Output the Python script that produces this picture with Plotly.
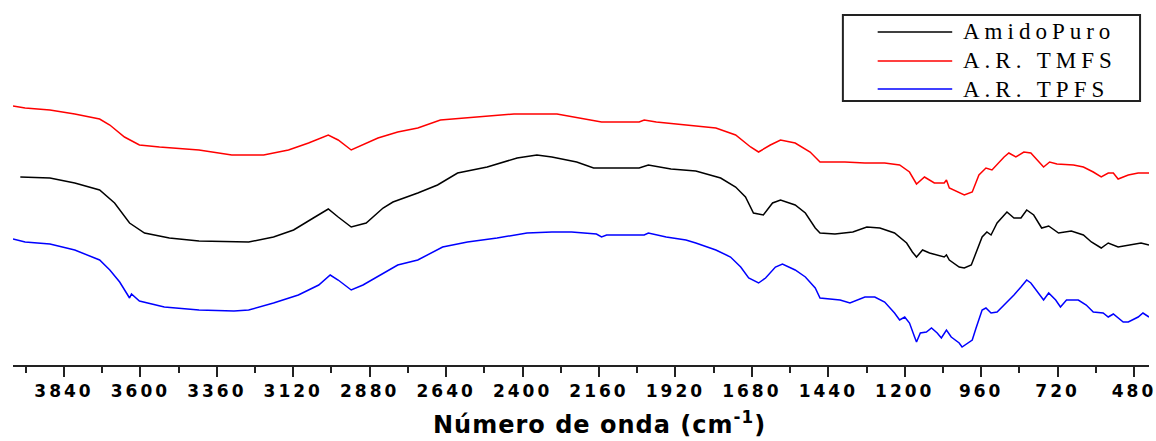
import plotly.graph_objects as go

# Wavenumber (cm^-1) and transmittance (arbitrary units, curves offset for display)
amido_x = [3977, 3884, 3806, 3728, 3681, 3634, 3587, 3509, 3416, 3260, 3182, 3119, 3057, 3010, 2979,
           2938, 2891, 2838, 2807, 2729, 2667, 2604, 2511, 2417, 2355, 2308, 2230, 2177, 2034, 2005,
           1934, 1856, 1778, 1731, 1700, 1675, 1644, 1615, 1590, 1544, 1512, 1481, 1466, 1419, 1363,
           1319, 1278, 1232, 1194, 1176, 1163, 1144, 1122, 1091, 1076, 1069, 1060, 1029, 1013, 991,
           976, 957, 942, 929, 910, 888, 879, 857, 835, 817, 795, 770, 748, 717, 677, 639, 614, 583,
           561, 530, 483, 458, 433]
amido_y = [188, 187, 182, 175, 162, 142, 132, 127, 124, 123, 128, 135, 147, 156, 148,
           138, 142, 157, 163, 172, 180, 192, 198, 207, 210, 208, 203, 197, 197, 200,
           196, 194, 187, 178, 168, 152, 150, 162, 165, 160, 152, 137, 132, 131, 133,
           138, 137, 132, 122, 113, 108, 115, 112, 109, 108, 110, 105, 98, 97, 100,
           112, 128, 133, 130, 142, 150, 153, 147, 147, 155, 150, 137, 139, 132, 134, 130, 123, 117,
           122, 118, 121, 122, 120]

tmfs_x = [4000, 3962, 3884, 3806, 3728, 3696, 3650, 3603, 3540, 3416, 3313, 3213, 3135, 3072, 3010,
          2979, 2938, 2901, 2854, 2792, 2729, 2658, 2542, 2427, 2292, 2199, 2152, 2034, 2018, 1980,
          1887, 1793, 1731, 1684, 1659, 1622, 1590, 1544, 1497, 1466, 1388, 1325, 1263, 1216, 1185,
          1163, 1138, 1107, 1076, 1069, 1060, 1029, 1013, 988, 967, 945, 926, 888, 873, 851, 826,
          804, 779, 764, 745, 722, 670, 639, 608, 583, 561, 545, 530, 498, 467, 433]
tmfs_y = [259, 257, 255, 251, 246, 240, 228, 220, 218, 215, 210, 210, 215, 222, 230,
          225, 215, 220, 227, 233, 237, 245, 248, 251, 251, 246, 243, 243, 245, 243,
          240, 237, 230, 218, 213, 220, 225, 222, 213, 203, 203, 202, 202, 200, 193,
          181, 188, 182, 182, 185, 177, 172, 170, 173, 190, 197, 195, 208, 212, 208, 213,
          212, 203, 198, 203, 201, 200, 198, 193, 188, 192, 192, 186, 190, 192, 192]

tpfs_x = [4000, 3962, 3884, 3806, 3728, 3696, 3665, 3650, 3634, 3628, 3603, 3525, 3416, 3306, 3260,
          3182, 3104, 3040, 3004, 2979, 2938, 2901, 2838, 2792, 2729, 2651, 2573, 2480, 2386, 2308,
          2246, 2168, 2152, 2136, 2018, 2005, 1949, 1887, 1856, 1793, 1747, 1715, 1690, 1659, 1637,
          1606, 1584, 1544, 1512, 1481, 1466, 1403, 1372, 1325, 1294, 1263, 1232, 1216, 1200, 1185,
          1169, 1163, 1151, 1132, 1116, 1098, 1085, 1069, 1054, 1029, 1020, 998, 988, 976, 957, 945,
          929, 910, 888, 873, 857, 835, 817, 804, 779, 764, 748, 726, 711, 692, 655, 630, 608, 577,
          561, 545, 514, 498, 467, 452, 433]
tpfs_y = [126, 123, 121, 115, 105, 95, 83, 75, 67, 71, 64, 58, 55, 54, 55,
          62, 70, 80, 90, 85, 75, 80, 92, 100, 105, 118, 123, 127, 132, 133,
          133, 131, 128, 130, 130, 132, 128, 125, 122, 115, 108, 98, 87, 82, 87,
          98, 101, 95, 88, 77, 67, 65, 62, 68, 68, 63, 52, 45, 48, 42,
          28, 23, 32, 33, 37, 32, 27, 35, 28, 22, 18, 23, 25, 37, 55, 57,
          52, 53, 60, 65, 70, 78, 85, 82, 72, 65, 72, 65, 58, 65, 65, 60, 53, 52,
          48, 51, 43, 43, 48, 52, 48]

series_names = ["AmidoPuro", "A.R. TMFS", "A.R. TPFS"]
series_colors = ["#000000", "#ff0000", "#0000ff"]

tick_vals = [3840, 3600, 3360, 3120, 2880, 2640, 2400, 2160, 1920, 1680, 1440, 1200, 960, 720, 480]
tick_labels = [str(v) for v in tick_vals]

W, H = 1156, 441
ML, MR, MT, MB = 13, 0, 0, 76
PW, PH = W - ML - MR, H - MT - MB


def px_x(p):  # pixel -> paper x
    return (p - ML) / PW


def px_y(p):  # pixel -> paper y
    return (H - MB - p) / PH


def spaced(s, px):
    return f'<span style="letter-spacing:{px}px">{s}</span>'


fig = go.Figure()
for name, xs, ys, col in zip(series_names,
                             [amido_x, tmfs_x, tpfs_x],
                             [amido_y, tmfs_y, tpfs_y],
                             series_colors):
    fig.add_trace(go.Scatter(x=xs, y=ys, mode="lines", name=name, showlegend=False,
                             line=dict(color=col, width=1.5)))

# framed key
shapes = [dict(type="rect", xref="paper", yref="paper",
               x0=px_x(848), x1=px_x(1147), y0=px_y(101), y1=px_y(15),
               line=dict(color="#222222", width=2), fillcolor="white", layer="above")]
annotations = []
row_y = [32, 61, 89]
for name, col, ry in zip(series_names, series_colors, row_y):
    shapes.append(dict(type="line", xref="paper", yref="paper",
                       x0=px_x(883), x1=px_x(958), y0=px_y(ry), y1=px_y(ry),
                       line=dict(color=col, width=1.5), layer="above"))
    annotations.append(dict(text=spaced(name, 5), xref="paper", yref="paper",
                            x=px_x(967), y=px_y(ry), xanchor="left", yanchor="middle",
                            showarrow=False,
                            font=dict(family="Liberation Serif", size=23, color="black")))

annotations.append(dict(
    text=spaced("Número de onda (cm<sup>-1</sup>)", 1),
    xref="paper", yref="paper", x=px_x(603), y=px_y(423),
    xanchor="center", yanchor="middle", showarrow=False,
    font=dict(family="DejaVu Sans", size=24, color="black", weight="bold"),
))

fig.update_layout(
    width=W, height=H,
    margin=dict(l=ML, r=MR, t=MT, b=MB),
    paper_bgcolor="white", plot_bgcolor="white",
    showlegend=False,
    xaxis=dict(
        range=[4000, 433], autorange=False,
        showgrid=False, zeroline=False,
        showline=True, linecolor="#222222", linewidth=1.5,
        ticks="outside", ticklen=10, tickwidth=2, tickcolor="#222222",
        tickmode="array", tickvals=tick_vals,
        ticktext=[spaced(t, 3) for t in tick_labels],
        ticklabeloverflow="allow",
        tickfont=dict(family="DejaVu Sans", size=17, color="black", weight="bold"),
        minor=dict(ticks="outside", ticklen=6, tickwidth=2, tickcolor="#222222",
                   dtick=120, tick0=480, showgrid=False),
    ),
    yaxis=dict(range=[0, 365], autorange=False, visible=False),
    shapes=shapes,
    annotations=annotations,
)

fig.write_html("out.html")
